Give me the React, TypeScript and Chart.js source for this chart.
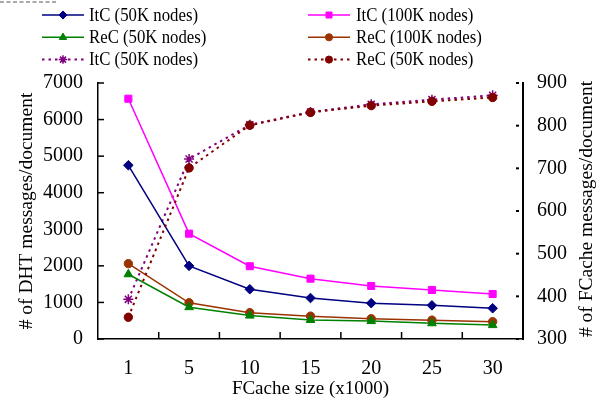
import React, { useEffect, useRef } from 'react';
import { Chart, registerables } from 'chart.js';
import { drawPoint } from 'chart.js/helpers';

Chart.register(...registerables);

const categories = ['1', '5', '10', '15', '20', '25', '30'];
const itc50K = [4750, 2000, 1360, 1120, 980, 920, 840];
const itc100K = [6570, 2880, 1990, 1650, 1450, 1340, 1230];
const rec50K = [1770, 870, 640, 520, 490, 430, 380];
const rec100K = [2060, 990, 720, 625, 555, 515, 473];
const itcFCache = [393, 722, 802, 832, 850, 861, 871];
const recFCache = [351, 701, 801, 831, 847, 857, 866];

const seriesLabels = [
  'ItC (50K nodes)',
  'ItC (100K nodes)',
  'ReC (50K nodes)',
  'ReC (100K nodes)',
  'ItC (50K nodes)',
  'ReC (50K nodes)',
];

const xTitle = 'FCache size (x1000)';
const yTitle = '# of DHT messages/document';
const y1Title = '# of FCache messages/document';

const FONT = "'Liberation Serif', 'Times New Roman', Times, serif";

export default function App() {
  const ref = useRef<HTMLCanvasElement>(null);

  useEffect(() => {
    document.body.style.margin = '0';
    const canvas = ref.current!;

    const decor = {
      id: 'decor',
      afterDraw(chart: any) {
        const c = chart.ctx as CanvasRenderingContext2D;
        const { left, right, top, bottom } = chart.chartArea;
        const xs = chart.scales.x;
        const ys = chart.scales.y;
        const y1s = chart.scales.y1;
        c.save();
        c.strokeStyle = '#000';
        c.lineWidth = 1.5;
        // inner ticks on left axis
        ys.ticks.forEach((t: any) => {
          const py = ys.getPixelForValue(t.value);
          c.beginPath();
          c.moveTo(left, py);
          c.lineTo(left + 6, py);
          c.stroke();
        });
        // inner ticks on x axis, between categories
        for (let i = 1; i < categories.length; i++) {
          const px = (xs.getPixelForValue(i - 1) + xs.getPixelForValue(i)) / 2;
          c.beginPath();
          c.moveTo(px, bottom);
          c.lineTo(px, bottom - 7);
          c.stroke();
        }
        // dotted inner ticks on right axis
        c.lineWidth = 2;
        c.setLineDash([3, 4.5]);
        y1s.ticks.forEach((t: any) => {
          const py = y1s.getPixelForValue(t.value);
          c.beginPath();
          c.moveTo(right - 7, py);
          c.lineTo(right, py);
          c.stroke();
        });
        c.setLineDash([]);

        // right title, reading bottom to top
        c.save();
        c.translate(586.5, (top + bottom) / 2 - 2);
        c.rotate(-Math.PI / 2);
        c.font = `19.5px ${FONT}`;
        c.fillStyle = '#000';
        c.textAlign = 'center';
        c.textBaseline = 'middle';
        c.fillText(y1Title, 0, 0);
        c.restore();

        // legend (2 columns x 3 rows)
        const lineX = [42, 308];
        const textX = [89, 356];
        const baseY = [20.7, 43, 65.3];
        c.font = `19px ${FONT}`;
        const scaleX = 109 / c.measureText('ItC (50K nodes)').width;
        chart.data.datasets.forEach((ds: any, i: number) => {
          const col = i % 2;
          const row = Math.floor(i / 2);
          const ly = baseY[row] - 5.7;
          c.save();
          c.strokeStyle = ds.borderColor;
          c.lineWidth = ds.borderWidth;
          c.setLineDash(ds.borderDash || []);
          c.beginPath();
          c.moveTo(lineX[col], ly);
          c.lineTo(lineX[col] + 42, ly);
          c.stroke();
          c.setLineDash([]);
          c.fillStyle = ds.pointBackgroundColor || ds.backgroundColor;
          c.strokeStyle = ds.borderColor;
          c.lineWidth = ds.pointBorderWidth;
          drawPoint(c, {
            pointStyle: ds.pointStyle,
            radius: ds.pointRadius * 0.85,
            rotation: 0,
            borderWidth: ds.pointBorderWidth,
          } as any, lineX[col] + 21, ly);
          c.restore();
          c.save();
          c.fillStyle = '#000';
          c.textAlign = 'left';
          c.textBaseline = 'alphabetic';
          c.translate(textX[col], baseY[row]);
          c.scale(scaleX, 1);
          c.fillText(seriesLabels[i], 0, 0);
          c.restore();
        });

        // small dashed stroke at the top-left corner
        c.strokeStyle = '#555';
        c.lineWidth = 1;
        c.setLineDash([4, 2.5]);
        c.beginPath();
        c.moveTo(0, 2);
        c.lineTo(56, 2);
        c.stroke();
        c.restore();
      },
    };

    const plain = (v: any) => String(v);
    const common = { tension: 0, fill: false };
    const chart = new Chart(canvas, {
      type: 'line',
      data: {
        labels: categories,
        datasets: [
          { ...common, label: seriesLabels[0], data: itc50K, yAxisID: 'y', borderColor: '#000080', backgroundColor: '#000080', pointBackgroundColor: '#000080', borderWidth: 1.5, pointStyle: 'rectRot', pointRadius: 4.8, pointBorderWidth: 1 },
          { ...common, label: seriesLabels[1], data: itc100K, yAxisID: 'y', borderColor: '#ff00ff', backgroundColor: '#ff00ff', pointBackgroundColor: '#ff00ff', borderWidth: 1.5, pointStyle: 'rect', pointRadius: 5, pointBorderWidth: 1 },
          { ...common, label: seriesLabels[2], data: rec50K, yAxisID: 'y', borderColor: '#008000', backgroundColor: '#008000', pointBackgroundColor: '#008000', borderWidth: 1.5, pointStyle: 'triangle', pointRadius: 5, pointBorderWidth: 1 },
          { ...common, label: seriesLabels[3], data: rec100K, yAxisID: 'y', borderColor: '#993300', backgroundColor: '#993300', pointBackgroundColor: '#993300', borderWidth: 1.5, pointStyle: 'circle', pointRadius: 4.2, pointBorderWidth: 1 },
          { ...common, label: seriesLabels[4], data: itcFCache, yAxisID: 'y1', borderColor: '#800080', backgroundColor: '#800080', pointBackgroundColor: '#800080', borderWidth: 2, borderDash: [2.5, 4], pointStyle: 'star', pointRadius: 5, pointBorderWidth: 1.5 },
          { ...common, label: seriesLabels[5], data: recFCache, yAxisID: 'y1', borderColor: '#800000', backgroundColor: '#800000', pointBackgroundColor: '#800000', borderWidth: 2, borderDash: [2.5, 4], pointStyle: 'circle', pointRadius: 4.2, pointBorderWidth: 1, order: -1 },
        ] as any,
      },
      options: {
        animation: false,
        responsive: false,
        devicePixelRatio: 1,
        layout: { padding: { top: 83, left: 0, right: 0, bottom: 0 } },
        plugins: { legend: { display: false }, tooltip: { enabled: false } },
        events: [],
        scales: {
          x: {
            type: 'category',
            offset: true,
            grid: { display: false, drawTicks: false },
            border: { display: true, color: '#000', width: 1.5 },
            ticks: { color: '#000', font: { family: FONT, size: 20 }, padding: 18, maxRotation: 0, autoSkip: false },
            title: { display: true, text: xTitle, color: '#000', font: { family: FONT, size: 19 }, padding: { top: 0, bottom: 13 } },
            afterFit: (s: any) => { s.height = 74; },
          },
          y: {
            type: 'linear',
            position: 'left',
            min: 0,
            max: 7000,
            grid: { display: false, drawTicks: false },
            border: { display: true, color: '#000', width: 1.5 },
            ticks: { stepSize: 1000, color: '#000', font: { family: FONT, size: 20 }, padding: 15, callback: plain },
            title: { display: true, text: yTitle, color: '#000', font: { family: FONT, size: 19.5 }, padding: { top: 15.3, bottom: 0 } },
            afterFit: (s: any) => { s.width = 98; },
          },
          y1: {
            type: 'linear',
            position: 'right',
            min: 300,
            max: 900,
            grid: { display: false, drawTicks: false },
            border: { display: true, color: '#000', width: 2, dash: [3, 4.5] },
            ticks: { stepSize: 100, color: '#000', font: { family: FONT, size: 20 }, padding: 14, callback: plain },
            afterFit: (s: any) => { s.width = 85; },
          },
        },
      } as any,
      plugins: [decor],
    });

    return () => chart.destroy();
  }, []);

  return (
    <div style={{ width: 608, height: 413 }}>
      <canvas ref={ref} width={608} height={413} style={{ display: 'block' }} />
    </div>
  );
}
